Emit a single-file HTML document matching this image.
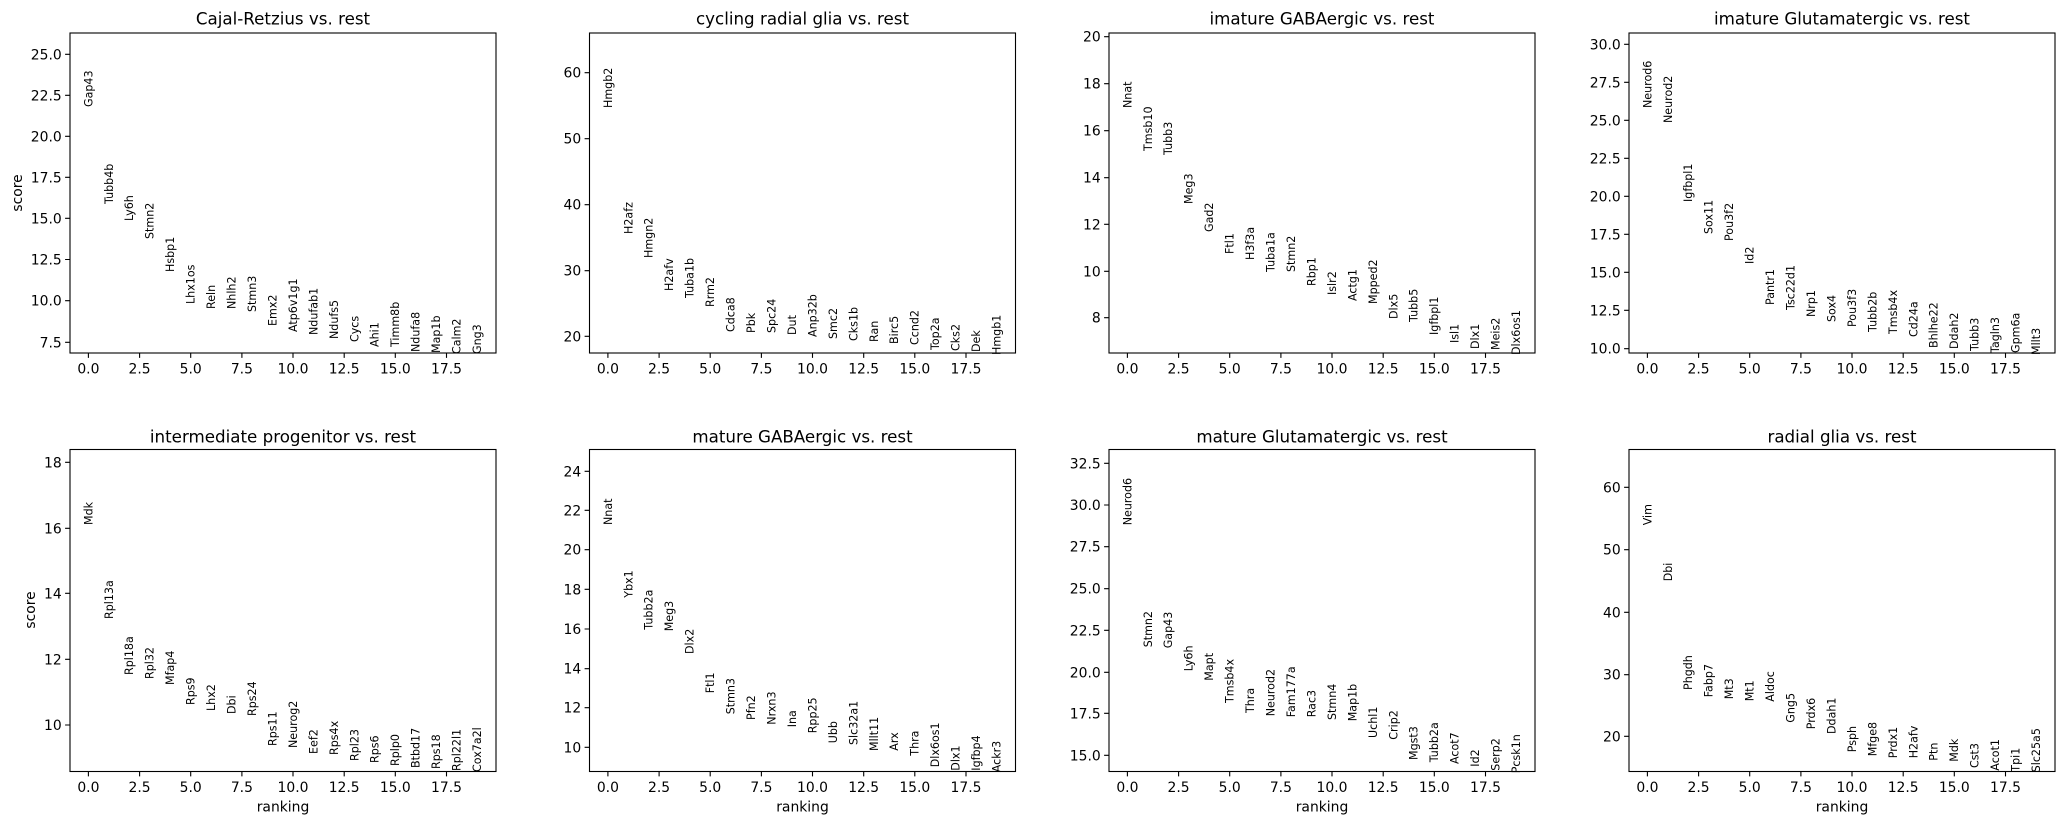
<!DOCTYPE html>
<html><head><meta charset="utf-8"><style>
html,body{margin:0;padding:0;background:#fff;}
svg{display:block;font-family:"DejaVu Sans","Liberation Sans",sans-serif;}
.t{font-size:13.9px;fill:#000;}
.ti{font-size:16.7px;fill:#000;text-anchor:middle;}
.g text{font-size:11.1px;fill:#000;}
.ax{fill:none;stroke:#000;stroke-width:1.1;}
.tk{stroke:#000;stroke-width:1.1;fill:none;}
.xl text{text-anchor:middle;}
.yl text{text-anchor:end;}
</style></head><body>
<svg width="2064" height="824" viewBox="0 0 2064 824" xmlns="http://www.w3.org/2000/svg">
<rect width="2064" height="824" fill="#fff"/>

<!-- Panel 1 -->
<g transform="translate(70,0)">
<rect class="ax" x="0" y="33" width="426" height="320"/>
<text class="ti" x="213" y="24.5">Cajal-Retzius vs. rest</text>
<path class="tk" d="M18.4 353v4.9M69.6 353v4.9M120.7 353v4.9M171.9 353v4.9M223 353v4.9M274.2 353v4.9M325.3 353v4.9M376.5 353v4.9"/>
<g class="t xl"><text x="18.4" y="373.5">0.0</text><text x="69.6" y="373.5">2.5</text><text x="120.7" y="373.5">5.0</text><text x="171.9" y="373.5">7.5</text><text x="223" y="373.5">10.0</text><text x="274.2" y="373.5">12.5</text><text x="325.3" y="373.5">15.0</text><text x="376.5" y="373.5">17.5</text></g>
<path class="tk" d="M0 54.3h-4.9M0 95.3h-4.9M0 136.3h-4.9M0 177.3h-4.9M0 218.3h-4.9M0 259.5h-4.9M0 300.7h-4.9M0 342.3h-4.9"/>
<g class="t yl"><text x="-8.3" y="59.3">25.0</text><text x="-8.3" y="100.3">22.5</text><text x="-8.3" y="141.3">20.0</text><text x="-8.3" y="182.3">17.5</text><text x="-8.3" y="223.3">15.0</text><text x="-8.3" y="264.5">12.5</text><text x="-8.3" y="305.7">10.0</text><text x="-8.3" y="347.3">7.5</text></g>
<g class="g">
<text transform="translate(18.4,107) rotate(-90)" dy="0.35em">Gap43</text>
<text transform="translate(38.9,204) rotate(-90)" dy="0.35em">Tubb4b</text>
<text transform="translate(59.3,221) rotate(-90)" dy="0.35em">Ly6h</text>
<text transform="translate(79.8,239) rotate(-90)" dy="0.35em">Stmn2</text>
<text transform="translate(100.2,272) rotate(-90)" dy="0.35em">Hsbp1</text>
<text transform="translate(120.7,304) rotate(-90)" dy="0.35em">Lhx1os</text>
<text transform="translate(141.2,309) rotate(-90)" dy="0.35em">Reln</text>
<text transform="translate(161.6,309) rotate(-90)" dy="0.35em">Nhlh2</text>
<text transform="translate(182.1,312) rotate(-90)" dy="0.35em">Stmn3</text>
<text transform="translate(202.5,326) rotate(-90)" dy="0.35em">Emx2</text>
<text transform="translate(223,332) rotate(-90)" dy="0.35em">Atp6v1g1</text>
<text transform="translate(243.5,335) rotate(-90)" dy="0.35em">Ndufab1</text>
<text transform="translate(263.9,339) rotate(-90)" dy="0.35em">Ndufs5</text>
<text transform="translate(284.4,342) rotate(-90)" dy="0.35em">Cycs</text>
<text transform="translate(304.8,347) rotate(-90)" dy="0.35em">Ahi1</text>
<text transform="translate(325.3,347) rotate(-90)" dy="0.35em">Timm8b</text>
<text transform="translate(345.8,352) rotate(-90)" dy="0.35em">Ndufa8</text>
<text transform="translate(366.2,353) rotate(-90)" dy="0.35em">Map1b</text>
<text transform="translate(386.7,354) rotate(-90)" dy="0.35em">Calm2</text>
<text transform="translate(407.1,354) rotate(-90)" dy="0.35em">Gng3</text>
</g>
<text class="t" transform="translate(-53,193) rotate(-90)" dy="0.35em" text-anchor="middle">score</text>
</g>

<!-- Panel 2 -->
<g transform="translate(589.5,0)">
<rect class="ax" x="0" y="33" width="426" height="320"/>
<text class="ti" x="213" y="24.5">cycling radial glia vs. rest</text>
<path class="tk" d="M18.4 353v4.9M69.6 353v4.9M120.7 353v4.9M171.9 353v4.9M223 353v4.9M274.2 353v4.9M325.3 353v4.9M376.5 353v4.9"/>
<g class="t xl"><text x="18.4" y="373.5">0.0</text><text x="69.6" y="373.5">2.5</text><text x="120.7" y="373.5">5.0</text><text x="171.9" y="373.5">7.5</text><text x="223" y="373.5">10.0</text><text x="274.2" y="373.5">12.5</text><text x="325.3" y="373.5">15.0</text><text x="376.5" y="373.5">17.5</text></g>
<path class="tk" d="M0 72.7h-4.9M0 138.7h-4.9M0 204.7h-4.9M0 270.7h-4.9M0 336.3h-4.9"/>
<g class="t yl"><text x="-8.3" y="77.7">60</text><text x="-8.3" y="143.7">50</text><text x="-8.3" y="209.7">40</text><text x="-8.3" y="275.7">30</text><text x="-8.3" y="341.3">20</text></g>
<g class="g">
<text transform="translate(18.4,108) rotate(-90)" dy="0.35em">Hmgb2</text>
<text transform="translate(38.9,234) rotate(-90)" dy="0.35em">H2afz</text>
<text transform="translate(59.3,258) rotate(-90)" dy="0.35em">Hmgn2</text>
<text transform="translate(79.8,291) rotate(-90)" dy="0.35em">H2afv</text>
<text transform="translate(100.2,298) rotate(-90)" dy="0.35em">Tuba1b</text>
<text transform="translate(120.7,307) rotate(-90)" dy="0.35em">Rrm2</text>
<text transform="translate(141.2,332) rotate(-90)" dy="0.35em">Cdca8</text>
<text transform="translate(161.6,333) rotate(-90)" dy="0.35em">Pbk</text>
<text transform="translate(182.1,333) rotate(-90)" dy="0.35em">Spc24</text>
<text transform="translate(202.5,335) rotate(-90)" dy="0.35em">Dut</text>
<text transform="translate(223,337) rotate(-90)" dy="0.35em">Anp32b</text>
<text transform="translate(243.5,339) rotate(-90)" dy="0.35em">Smc2</text>
<text transform="translate(263.9,341) rotate(-90)" dy="0.35em">Cks1b</text>
<text transform="translate(284.4,342) rotate(-90)" dy="0.35em">Ran</text>
<text transform="translate(304.8,344) rotate(-90)" dy="0.35em">Birc5</text>
<text transform="translate(325.3,345) rotate(-90)" dy="0.35em">Ccnd2</text>
<text transform="translate(345.8,350) rotate(-90)" dy="0.35em">Top2a</text>
<text transform="translate(366.2,351) rotate(-90)" dy="0.35em">Cks2</text>
<text transform="translate(386.7,352) rotate(-90)" dy="0.35em">Dek</text>
<text transform="translate(407.1,355) rotate(-90)" dy="0.35em">Hmgb1</text>
</g>
</g>

<!-- Panel 3 -->
<g transform="translate(1109,0)">
<rect class="ax" x="0" y="33" width="426" height="320"/>
<text class="ti" x="213" y="24.5">imature GABAergic vs. rest</text>
<path class="tk" d="M18.4 353v4.9M69.6 353v4.9M120.7 353v4.9M171.9 353v4.9M223 353v4.9M274.2 353v4.9M325.3 353v4.9M376.5 353v4.9"/>
<g class="t xl"><text x="18.4" y="373.5">0.0</text><text x="69.6" y="373.5">2.5</text><text x="120.7" y="373.5">5.0</text><text x="171.9" y="373.5">7.5</text><text x="223" y="373.5">10.0</text><text x="274.2" y="373.5">12.5</text><text x="325.3" y="373.5">15.0</text><text x="376.5" y="373.5">17.5</text></g>
<path class="tk" d="M0 36.7h-4.9M0 83.7h-4.9M0 130.7h-4.9M0 177.7h-4.9M0 224.3h-4.9M0 271.3h-4.9M0 317.7h-4.9"/>
<g class="t yl"><text x="-8.3" y="41.7">20</text><text x="-8.3" y="88.7">18</text><text x="-8.3" y="135.7">16</text><text x="-8.3" y="182.7">14</text><text x="-8.3" y="229.3">12</text><text x="-8.3" y="276.3">10</text><text x="-8.3" y="322.7">8</text></g>
<g class="g">
<text transform="translate(18.4,108) rotate(-90)" dy="0.35em">Nnat</text>
<text transform="translate(38.9,151) rotate(-90)" dy="0.35em">Tmsb10</text>
<text transform="translate(59.3,155) rotate(-90)" dy="0.35em">Tubb3</text>
<text transform="translate(79.8,204) rotate(-90)" dy="0.35em">Meg3</text>
<text transform="translate(100.2,232) rotate(-90)" dy="0.35em">Gad2</text>
<text transform="translate(120.7,254) rotate(-90)" dy="0.35em">Ftl1</text>
<text transform="translate(141.2,260) rotate(-90)" dy="0.35em">H3f3a</text>
<text transform="translate(161.6,272) rotate(-90)" dy="0.35em">Tuba1a</text>
<text transform="translate(182.1,272) rotate(-90)" dy="0.35em">Stmn2</text>
<text transform="translate(202.5,286) rotate(-90)" dy="0.35em">Rbp1</text>
<text transform="translate(223,295) rotate(-90)" dy="0.35em">Islr2</text>
<text transform="translate(243.5,301) rotate(-90)" dy="0.35em">Actg1</text>
<text transform="translate(263.9,304) rotate(-90)" dy="0.35em">Mpped2</text>
<text transform="translate(284.4,319) rotate(-90)" dy="0.35em">Dlx5</text>
<text transform="translate(304.8,322) rotate(-90)" dy="0.35em">Tubb5</text>
<text transform="translate(325.3,335) rotate(-90)" dy="0.35em">Igfbpl1</text>
<text transform="translate(345.8,343) rotate(-90)" dy="0.35em">Isl1</text>
<text transform="translate(366.2,349) rotate(-90)" dy="0.35em">Dlx1</text>
<text transform="translate(386.7,350) rotate(-90)" dy="0.35em">Meis2</text>
<text transform="translate(407.1,355) rotate(-90)" dy="0.35em">Dlx6os1</text>
</g>
</g>

<!-- Panel 4 -->
<g transform="translate(1629,0)">
<rect class="ax" x="0" y="33" width="426" height="320"/>
<text class="ti" x="213" y="24.5">imature Glutamatergic vs. rest</text>
<path class="tk" d="M18.4 353v4.9M69.6 353v4.9M120.7 353v4.9M171.9 353v4.9M223 353v4.9M274.2 353v4.9M325.3 353v4.9M376.5 353v4.9"/>
<g class="t xl"><text x="18.4" y="373.5">0.0</text><text x="69.6" y="373.5">2.5</text><text x="120.7" y="373.5">5.0</text><text x="171.9" y="373.5">7.5</text><text x="223" y="373.5">10.0</text><text x="274.2" y="373.5">12.5</text><text x="325.3" y="373.5">15.0</text><text x="376.5" y="373.5">17.5</text></g>
<path class="tk" d="M0 44.3h-4.9M0 82.3h-4.9M0 120.3h-4.9M0 158.3h-4.9M0 196.3h-4.9M0 234.3h-4.9M0 272.3h-4.9M0 310.3h-4.9M0 348.7h-4.9"/>
<g class="t yl"><text x="-8.3" y="49.3">30.0</text><text x="-8.3" y="87.3">27.5</text><text x="-8.3" y="125.3">25.0</text><text x="-8.3" y="163.3">22.5</text><text x="-8.3" y="201.3">20.0</text><text x="-8.3" y="239.3">17.5</text><text x="-8.3" y="277.3">15.0</text><text x="-8.3" y="315.3">12.5</text><text x="-8.3" y="353.7">10.0</text></g>
<g class="g">
<text transform="translate(18.4,108) rotate(-90)" dy="0.35em">Neurod6</text>
<text transform="translate(38.9,123) rotate(-90)" dy="0.35em">Neurod2</text>
<text transform="translate(59.3,202) rotate(-90)" dy="0.35em">Igfbpl1</text>
<text transform="translate(79.8,234) rotate(-90)" dy="0.35em">Sox11</text>
<text transform="translate(100.2,241) rotate(-90)" dy="0.35em">Pou3f2</text>
<text transform="translate(120.7,264) rotate(-90)" dy="0.35em">Id2</text>
<text transform="translate(141.2,305) rotate(-90)" dy="0.35em">Pantr1</text>
<text transform="translate(161.6,310) rotate(-90)" dy="0.35em">Tsc22d1</text>
<text transform="translate(182.1,317) rotate(-90)" dy="0.35em">Nrp1</text>
<text transform="translate(202.5,322) rotate(-90)" dy="0.35em">Sox4</text>
<text transform="translate(223,327) rotate(-90)" dy="0.35em">Pou3f3</text>
<text transform="translate(243.5,332) rotate(-90)" dy="0.35em">Tubb2b</text>
<text transform="translate(263.9,334) rotate(-90)" dy="0.35em">Tmsb4x</text>
<text transform="translate(284.4,337) rotate(-90)" dy="0.35em">Cd24a</text>
<text transform="translate(304.8,348) rotate(-90)" dy="0.35em">Bhlhe22</text>
<text transform="translate(325.3,349) rotate(-90)" dy="0.35em">Ddah2</text>
<text transform="translate(345.8,351) rotate(-90)" dy="0.35em">Tubb3</text>
<text transform="translate(366.2,353) rotate(-90)" dy="0.35em">Tagln3</text>
<text transform="translate(386.7,353) rotate(-90)" dy="0.35em">Gpm6a</text>
<text transform="translate(407.1,355) rotate(-90)" dy="0.35em">Mllt3</text>
</g>
</g>

<!-- Panel 5 -->
<g transform="translate(70,0)">
<rect class="ax" x="0" y="449.5" width="426" height="322"/>
<text class="ti" x="213" y="442.3">intermediate progenitor vs. rest</text>
<path class="tk" d="M18.4 771.5v4.9M69.6 771.5v4.9M120.7 771.5v4.9M171.9 771.5v4.9M223 771.5v4.9M274.2 771.5v4.9M325.3 771.5v4.9M376.5 771.5v4.9"/>
<g class="t xl"><text x="18.4" y="792">0.0</text><text x="69.6" y="792">2.5</text><text x="120.7" y="792">5.0</text><text x="171.9" y="792">7.5</text><text x="223" y="792">10.0</text><text x="274.2" y="792">12.5</text><text x="325.3" y="792">15.0</text><text x="376.5" y="792">17.5</text></g>
<text class="t" x="213" y="811.3" text-anchor="middle">ranking</text>
<path class="tk" d="M0 462.3h-4.9M0 528.3h-4.9M0 593.3h-4.9M0 659.3h-4.9M0 725h-4.9"/>
<g class="t yl"><text x="-8.3" y="467.3">18</text><text x="-8.3" y="533.3">16</text><text x="-8.3" y="598.3">14</text><text x="-8.3" y="664.3">12</text><text x="-8.3" y="730">10</text></g>
<text class="t" transform="translate(-40,610) rotate(-90)" dy="0.35em" text-anchor="middle">score</text>
<g class="g">
<text transform="translate(18.4,525) rotate(-90)" dy="0.35em">Mdk</text>
<text transform="translate(38.9,619) rotate(-90)" dy="0.35em">Rpl13a</text>
<text transform="translate(59.3,675) rotate(-90)" dy="0.35em">Rpl18a</text>
<text transform="translate(79.8,679) rotate(-90)" dy="0.35em">Rpl32</text>
<text transform="translate(100.2,685) rotate(-90)" dy="0.35em">Mfap4</text>
<text transform="translate(120.7,705) rotate(-90)" dy="0.35em">Rps9</text>
<text transform="translate(141.2,711) rotate(-90)" dy="0.35em">Lhx2</text>
<text transform="translate(161.6,714) rotate(-90)" dy="0.35em">Dbi</text>
<text transform="translate(182.1,716) rotate(-90)" dy="0.35em">Rps24</text>
<text transform="translate(202.5,746) rotate(-90)" dy="0.35em">Rps11</text>
<text transform="translate(223,748) rotate(-90)" dy="0.35em">Neurog2</text>
<text transform="translate(243.5,754) rotate(-90)" dy="0.35em">Eef2</text>
<text transform="translate(263.9,755) rotate(-90)" dy="0.35em">Rps4x</text>
<text transform="translate(284.4,761) rotate(-90)" dy="0.35em">Rpl23</text>
<text transform="translate(304.8,763) rotate(-90)" dy="0.35em">Rps6</text>
<text transform="translate(325.3,766) rotate(-90)" dy="0.35em">Rplp0</text>
<text transform="translate(345.8,768) rotate(-90)" dy="0.35em">Btbd17</text>
<text transform="translate(366.2,769) rotate(-90)" dy="0.35em">Rps18</text>
<text transform="translate(386.7,771) rotate(-90)" dy="0.35em">Rpl22l1</text>
<text transform="translate(407.1,772) rotate(-90)" dy="0.35em">Cox7a2l</text>
</g>
</g>

<!-- Panel 6 -->
<g transform="translate(589.5,0)">
<rect class="ax" x="0" y="449.5" width="426" height="322"/>
<text class="ti" x="213" y="442.3">mature GABAergic vs. rest</text>
<path class="tk" d="M18.4 771.5v4.9M69.6 771.5v4.9M120.7 771.5v4.9M171.9 771.5v4.9M223 771.5v4.9M274.2 771.5v4.9M325.3 771.5v4.9M376.5 771.5v4.9"/>
<g class="t xl"><text x="18.4" y="792">0.0</text><text x="69.6" y="792">2.5</text><text x="120.7" y="792">5.0</text><text x="171.9" y="792">7.5</text><text x="223" y="792">10.0</text><text x="274.2" y="792">12.5</text><text x="325.3" y="792">15.0</text><text x="376.5" y="792">17.5</text></g>
<text class="t" x="213" y="811.3" text-anchor="middle">ranking</text>
<path class="tk" d="M0 471.3h-4.9M0 510.3h-4.9M0 549.7h-4.9M0 589.3h-4.9M0 629h-4.9M0 668.7h-4.9M0 707.7h-4.9M0 747.3h-4.9"/>
<g class="t yl"><text x="-8.3" y="476.3">24</text><text x="-8.3" y="515.3">22</text><text x="-8.3" y="554.7">20</text><text x="-8.3" y="594.3">18</text><text x="-8.3" y="634">16</text><text x="-8.3" y="673.7">14</text><text x="-8.3" y="712.7">12</text><text x="-8.3" y="752.3">10</text></g>
<g class="g">
<text transform="translate(18.4,525) rotate(-90)" dy="0.35em">Nnat</text>
<text transform="translate(38.9,597.7) rotate(-90)" dy="0.35em">Ybx1</text>
<text transform="translate(59.3,629.7) rotate(-90)" dy="0.35em">Tubb2a</text>
<text transform="translate(79.8,631.3) rotate(-90)" dy="0.35em">Meg3</text>
<text transform="translate(100.2,654) rotate(-90)" dy="0.35em">Dlx2</text>
<text transform="translate(120.7,693.3) rotate(-90)" dy="0.35em">Ftl1</text>
<text transform="translate(141.2,714.3) rotate(-90)" dy="0.35em">Stmn3</text>
<text transform="translate(161.6,720) rotate(-90)" dy="0.35em">Pfn2</text>
<text transform="translate(182.1,724.7) rotate(-90)" dy="0.35em">Nrxn3</text>
<text transform="translate(202.5,727.3) rotate(-90)" dy="0.35em">Ina</text>
<text transform="translate(223,733.3) rotate(-90)" dy="0.35em">Rpp25</text>
<text transform="translate(243.5,743.3) rotate(-90)" dy="0.35em">Ubb</text>
<text transform="translate(263.9,745) rotate(-90)" dy="0.35em">Slc32a1</text>
<text transform="translate(284.4,751) rotate(-90)" dy="0.35em">Mllt11</text>
<text transform="translate(304.8,750.7) rotate(-90)" dy="0.35em">Arx</text>
<text transform="translate(325.3,755.7) rotate(-90)" dy="0.35em">Thra</text>
<text transform="translate(345.8,767.3) rotate(-90)" dy="0.35em">Dlx6os1</text>
<text transform="translate(366.2,770.7) rotate(-90)" dy="0.35em">Dlx1</text>
<text transform="translate(386.7,770.7) rotate(-90)" dy="0.35em">Igfbp4</text>
<text transform="translate(407.1,772.3) rotate(-90)" dy="0.35em">Ackr3</text>
</g>
</g>

<!-- Panel 7 -->
<g transform="translate(1109,0)">
<rect class="ax" x="0" y="449.5" width="426" height="322"/>
<text class="ti" x="213" y="442.3">mature Glutamatergic vs. rest</text>
<path class="tk" d="M18.4 771.5v4.9M69.6 771.5v4.9M120.7 771.5v4.9M171.9 771.5v4.9M223 771.5v4.9M274.2 771.5v4.9M325.3 771.5v4.9M376.5 771.5v4.9"/>
<g class="t xl"><text x="18.4" y="792">0.0</text><text x="69.6" y="792">2.5</text><text x="120.7" y="792">5.0</text><text x="171.9" y="792">7.5</text><text x="223" y="792">10.0</text><text x="274.2" y="792">12.5</text><text x="325.3" y="792">15.0</text><text x="376.5" y="792">17.5</text></g>
<text class="t" x="213" y="811.3" text-anchor="middle">ranking</text>
<path class="tk" d="M0 463.3h-4.9M0 505h-4.9M0 546.7h-4.9M0 588.7h-4.9M0 630.3h-4.9M0 672.3h-4.9M0 713.3h-4.9M0 755.3h-4.9"/>
<g class="t yl"><text x="-8.3" y="468.3">32.5</text><text x="-8.3" y="510">30.0</text><text x="-8.3" y="551.7">27.5</text><text x="-8.3" y="593.7">25.0</text><text x="-8.3" y="635.3">22.5</text><text x="-8.3" y="677.3">20.0</text><text x="-8.3" y="718.3">17.5</text><text x="-8.3" y="760.3">15.0</text></g>
<g class="g">
<text transform="translate(18.4,525.3) rotate(-90)" dy="0.35em">Neurod6</text>
<text transform="translate(38.9,647.3) rotate(-90)" dy="0.35em">Stmn2</text>
<text transform="translate(59.3,648.3) rotate(-90)" dy="0.35em">Gap43</text>
<text transform="translate(79.8,671.3) rotate(-90)" dy="0.35em">Ly6h</text>
<text transform="translate(100.2,680.7) rotate(-90)" dy="0.35em">Mapt</text>
<text transform="translate(120.7,703) rotate(-90)" dy="0.35em">Tmsb4x</text>
<text transform="translate(141.2,713) rotate(-90)" dy="0.35em">Thra</text>
<text transform="translate(161.6,716.3) rotate(-90)" dy="0.35em">Neurod2</text>
<text transform="translate(182.1,717.3) rotate(-90)" dy="0.35em">Fam177a</text>
<text transform="translate(202.5,717.3) rotate(-90)" dy="0.35em">Rac3</text>
<text transform="translate(223,720) rotate(-90)" dy="0.35em">Stmn4</text>
<text transform="translate(243.5,721.3) rotate(-90)" dy="0.35em">Map1b</text>
<text transform="translate(263.9,738) rotate(-90)" dy="0.35em">Uchl1</text>
<text transform="translate(284.4,739.7) rotate(-90)" dy="0.35em">Crip2</text>
<text transform="translate(304.8,760) rotate(-90)" dy="0.35em">Mgst3</text>
<text transform="translate(325.3,762.3) rotate(-90)" dy="0.35em">Tubb2a</text>
<text transform="translate(345.8,764) rotate(-90)" dy="0.35em">Acot7</text>
<text transform="translate(366.2,766.7) rotate(-90)" dy="0.35em">Id2</text>
<text transform="translate(386.7,770.7) rotate(-90)" dy="0.35em">Serp2</text>
<text transform="translate(407.1,773.3) rotate(-90)" dy="0.35em">Pcsk1n</text>
</g>
</g>

<!-- Panel 8 -->
<g transform="translate(1629,0)">
<rect class="ax" x="0" y="449.5" width="426" height="322"/>
<text class="ti" x="213" y="442.3">radial glia vs. rest</text>
<path class="tk" d="M18.4 771.5v4.9M69.6 771.5v4.9M120.7 771.5v4.9M171.9 771.5v4.9M223 771.5v4.9M274.2 771.5v4.9M325.3 771.5v4.9M376.5 771.5v4.9"/>
<g class="t xl"><text x="18.4" y="792">0.0</text><text x="69.6" y="792">2.5</text><text x="120.7" y="792">5.0</text><text x="171.9" y="792">7.5</text><text x="223" y="792">10.0</text><text x="274.2" y="792">12.5</text><text x="325.3" y="792">15.0</text><text x="376.5" y="792">17.5</text></g>
<text class="t" x="213" y="811.3" text-anchor="middle">ranking</text>
<path class="tk" d="M0 487.3h-4.9M0 549.7h-4.9M0 612.3h-4.9M0 674.7h-4.9M0 736.3h-4.9"/>
<g class="t yl"><text x="-8.3" y="492.3">60</text><text x="-8.3" y="554.7">50</text><text x="-8.3" y="617.3">40</text><text x="-8.3" y="679.7">30</text><text x="-8.3" y="741.3">20</text></g>
<g class="g">
<text transform="translate(18.4,525.3) rotate(-90)" dy="0.35em">Vim</text>
<text transform="translate(38.9,581.3) rotate(-90)" dy="0.35em">Dbi</text>
<text transform="translate(59.3,690) rotate(-90)" dy="0.35em">Phgdh</text>
<text transform="translate(79.8,697.3) rotate(-90)" dy="0.35em">Fabp7</text>
<text transform="translate(100.2,699.3) rotate(-90)" dy="0.35em">Mt3</text>
<text transform="translate(120.7,701.3) rotate(-90)" dy="0.35em">Mt1</text>
<text transform="translate(141.2,701.7) rotate(-90)" dy="0.35em">Aldoc</text>
<text transform="translate(161.6,722.7) rotate(-90)" dy="0.35em">Gng5</text>
<text transform="translate(182.1,729.3) rotate(-90)" dy="0.35em">Prdx6</text>
<text transform="translate(202.5,734) rotate(-90)" dy="0.35em">Ddah1</text>
<text transform="translate(223,752.3) rotate(-90)" dy="0.35em">Psph</text>
<text transform="translate(243.5,756.3) rotate(-90)" dy="0.35em">Mfge8</text>
<text transform="translate(263.9,758.3) rotate(-90)" dy="0.35em">Prdx1</text>
<text transform="translate(284.4,758.3) rotate(-90)" dy="0.35em">H2afv</text>
<text transform="translate(304.8,760.7) rotate(-90)" dy="0.35em">Ptn</text>
<text transform="translate(325.3,761.7) rotate(-90)" dy="0.35em">Mdk</text>
<text transform="translate(345.8,768) rotate(-90)" dy="0.35em">Cst3</text>
<text transform="translate(366.2,770.7) rotate(-90)" dy="0.35em">Acot1</text>
<text transform="translate(386.7,771.7) rotate(-90)" dy="0.35em">Tpi1</text>
<text transform="translate(407.1,772.3) rotate(-90)" dy="0.35em">Slc25a5</text>
</g>
</g>
</svg>
</body></html>
